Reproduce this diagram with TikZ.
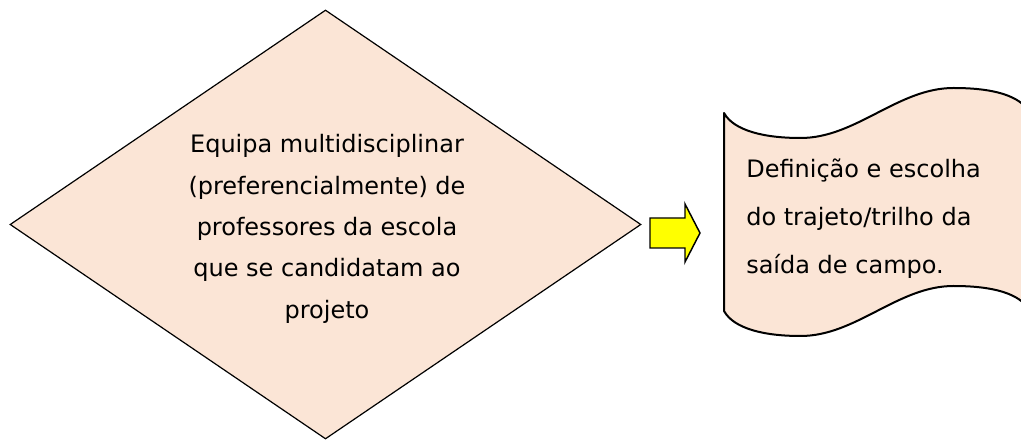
\documentclass[tikz,border=0pt]{standalone}
\usepackage{fontspec}
\setmainfont{DejaVu Sans}
\usepackage{xcolor}
\usepackage{tikz}
\usetikzlibrary{
  positioning,
  calc,
  shapes.geometric
}
\definecolor{peach}{HTML}{FBE5D6}
\definecolor{arrowyellow}{HTML}{FFFF00}

\tikzstyle{decision}=[diamond, draw=black, fill=peach, line width=0.9pt, inner sep=0pt, aspect=1.47, minimum width=473.25pt, minimum height=321.75pt]
\tikzstyle{decisiontext}=[inner sep=0pt, align=center, font=\fontsize{18}{31.1}\selectfont]
\tikzstyle{punchtape}=[draw=black, fill=peach, line width=1.5pt, line join=round]
\tikzstyle{punchtext}=[inner sep=0pt, align=left, font=\fontsize{18}{36}\selectfont]
\tikzstyle{blockarrow}=[draw=black, fill=arrowyellow, line width=1.1pt, line join=miter]

\begin{document}
\begin{tikzpicture}[x=0.75pt, y=-0.75pt]
    % 画像の範囲
    \useasboundingbox (0,0) rectangle (1021,441);
    \clip (0,0) rectangle (1021,441);

    % ひし形
    \node[decision] (team) at (325.5,224.5) {};
    \node[decisiontext] (teamtext) at ([shift={(1.5,4.4)}]team.center)
      {Equipa multidisciplinar\\(preferencialmente) de\\professores da escola\\que se candidatam ao\\projeto};

    % 矢印の座標
    \coordinate (A1) at (650,218);
    \coordinate (A2) at (685,218);
    \coordinate (A3) at (685,204);
    \coordinate (A4) at (700,233);
    \coordinate (A5) at (685,262);
    \coordinate (A6) at (685,248);
    \coordinate (A7) at (650,248);

    % 矢印の描画
    \draw[blockarrow] (A1) -- (A2) -- (A3) -- (A4) -- (A5) -- (A6) -- (A7) -- cycle;

    % テープの描画
    \draw[punchtape] (724,113) .. controls (734,131) and (765,138) .. (800.5,138)
      cos (877,113) sin (953.5,88) .. controls (992,88) and (1020,95) .. (1030,113)
      -- (1030,311) .. controls (1020,293) and (992,286) .. (953.5,286)
      cos (877,311) sin (800.5,336) .. controls (765,336) and (734,329) .. (724,311) -- cycle;

    % テープの文字
    \node[punchtext, anchor=west] (plan) at (746,218.4)
      {Definição e escolha\\do trajeto/trilho da\\saída de campo.};
\end{tikzpicture}
\end{document}
